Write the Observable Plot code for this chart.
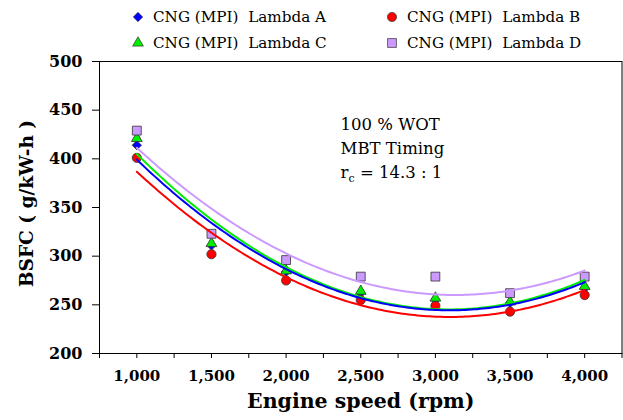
<!DOCTYPE html>
<html>
<head>
<meta charset="utf-8">
<script src="https://cdn.jsdelivr.net/npm/d3@7"></script>
<script src="https://cdn.jsdelivr.net/npm/@observablehq/plot@0.6"></script>
<style>
  html, body { margin: 0; padding: 0; background: #fff; }
  body { width: 623px; font-family: "DejaVu Serif", serif; }
  #legend { position: relative; width: 623px; height: 55px; }
  .item { position: absolute; display: flex; align-items: center; white-space: pre; font-size: 15.2px; color: #000; }
  .item svg { margin-right: 7px; overflow: visible; }
  #chart g[aria-label="y-axis tick label"], #chart g[aria-label="x-axis tick label"] { font-weight: bold; }
</style>
</head>
<body>
<div id="legend"></div>
<div id="chart"></div>
<script>
// Engine speed (rpm) and measured BSFC (g/kW-h) for each lambda setting
const speeds  = [1000, 1500, 2000, 2500, 3000, 3500, 4000];
const lambdaA = [414, 311, 284, 262, 255, 252, 267];
const lambdaB = [401, 302, 275, 255, 249, 243, 260];
const lambdaC = [421, 313, 285, 264, 257, 253, 269];
const lambdaD = [429, 323, 296, 279, 279, 262, 279];

const seriesLabels = [
  "CNG (MPI)  Lambda A",
  "CNG (MPI)  Lambda B",
  "CNG (MPI)  Lambda C",
  "CNG (MPI)  Lambda D"
];
const xTicks = d3.range(750, 4251, 250);
const yTicks = d3.range(200, 501, 50);
const notes = ["100 % WOT", "MBT Timing", "rc = 14.3 : 1"];

// Marker and trend line styling per series
const styles = [
  {symbol: "diamond2", r: 4.2, fill: "#0000ff", line: "#0000ff"},
  {symbol: "circle",   r: 4.6, fill: "#ff0000", line: "#ff0000"},
  {symbol: "triangle", r: 4.0, fill: "#00ee00", line: "#00ee00"},
  {symbol: "square",   r: 5.0, fill: "#cc99ff", line: "#cc99ff"}
];
const values = [lambdaA, lambdaB, lambdaC, lambdaD];

const series = values.map((v, i) => ({
  name: seriesLabels[i],
  ...styles[i],
  points: speeds.map((s, j) => ({speed: s, bsfc: v[j]}))
}));

// Second-order polynomial least-squares trend
function quadFit(xs, ys) {
  const S = [0, 0, 0, 0, 0], T = [0, 0, 0];
  xs.forEach((x, i) => {
    const t = x / 1000;
    for (let k = 0; k < 5; k++) S[k] += t ** k;
    for (let k = 0; k < 3; k++) T[k] += ys[i] * t ** k;
  });
  const A = [[S[0], S[1], S[2], T[0]], [S[1], S[2], S[3], T[1]], [S[2], S[3], S[4], T[2]]];
  for (let c = 0; c < 3; c++) {
    for (let r = c + 1; r < 3; r++) {
      const f = A[r][c] / A[c][c];
      for (let k = c; k < 4; k++) A[r][k] -= f * A[c][k];
    }
  }
  const coef = [0, 0, 0];
  for (let r = 2; r >= 0; r--) {
    let s = A[r][3];
    for (let k = r + 1; k < 3; k++) s -= A[r][k] * coef[k];
    coef[r] = s / A[r][r];
  }
  return x => { const t = x / 1000; return coef[0] + coef[1] * t + coef[2] * t * t; };
}

const sampleX = d3.range(speeds[0], speeds[speeds.length - 1] + 1, 20);
series.forEach(s => {
  const f = quadFit(speeds, s.points.map(p => p.bsfc));
  s.trend = sampleX.map(x => ({speed: x, bsfc: f(x)}));
});

// Legend
const legendPos = [[130, 17], [384, 17], [130, 43], [384, 43]];
const legend = d3.select("#legend");
series.forEach((s, i) => {
  const item = legend.append("div").attr("class", "item")
    .style("left", legendPos[i][0] + "px")
    .style("top", (legendPos[i][1] - 10) + "px")
    .style("height", "20px");
  const svg = item.append("svg").attr("width", 16).attr("height", 16);
  const sym = {diamond2: d3.symbolDiamond2, circle: d3.symbolCircle, triangle: d3.symbolTriangle, square: d3.symbolSquare}[s.symbol];
  svg.append("path")
    .attr("transform", "translate(8,8)")
    .attr("d", d3.symbol(sym, Math.PI * s.r * s.r)())
    .attr("fill", s.fill)
    .attr("stroke", "#333")
    .attr("stroke-width", 0.7);
  item.append("span").text(s.name);
});

const chart = Plot.plot({
  width: 623,
  height: 365,
  marginTop: 6,
  marginLeft: 99,
  marginRight: 1.5,
  marginBottom: 67,
  style: {fontFamily: "DejaVu Serif", background: "#fff", color: "#000", overflow: "visible"},
  x: {domain: [750, 4250]},
  y: {domain: [200, 500]},
  marks: [
    Plot.frame({stroke: "#000", strokeWidth: 1}),
    Plot.axisY({ticks: yTicks, tickSize: 7, tickPadding: 10, tickFormat: d => String(d),
      fontSize: 16, fontWeight: "bold", label: null, stroke: "#000"}),
    Plot.axisX({ticks: xTicks, tickSize: 5, tickPadding: 12,
      tickFormat: d => d % 500 === 0 ? d3.format(",")(d) : "",
      fontSize: 15, fontWeight: "bold", label: null, stroke: "#000"}),
    Plot.text(["Engine speed (rpm)"], {frameAnchor: "bottom", dy: 48, lineAnchor: "middle",
      fontSize: 20.5, fontWeight: "bold", fill: "#000"}),
    Plot.text(["BSFC ( g/kW-h )"], {frameAnchor: "left", dx: -72, dy: -4, rotate: -90,
      textAnchor: "middle", lineAnchor: "middle", fontSize: 18.5, fontWeight: "bold", fill: "#000"}),
    ...series.map(s => Plot.dot(s.points, {x: "speed", y: "bsfc", symbol: () => s.symbol, r: s.r,
      fill: s.fill, stroke: "#333", strokeWidth: 0.8})),
    ...[3, 2, 0, 1].map(i => Plot.line(series[i].trend, {x: "speed", y: "bsfc",
      stroke: series[i].line, strokeWidth: 2, curve: "linear"})),
    Plot.text(notes, {x: () => 2365, y: (d, i) => [435, 410, 386][i], textAnchor: "start",
      lineAnchor: "middle", fontSize: 16.5, fill: "#000"})
  ]
});
document.getElementById("chart").appendChild(chart);

// Subscript "c" in the compression ratio note
d3.select(chart).selectAll("text").filter(function () { return this.textContent === notes[2]; })
  .each(function () {
    const t = d3.select(this);
    t.text(null);
    t.append("tspan").text("r");
    t.append("tspan").attr("dy", 4).attr("font-size", 11).text("c");
    t.append("tspan").attr("dy", -4).text(" = 14.3 : 1");
  });
</script>
</body>
</html>
